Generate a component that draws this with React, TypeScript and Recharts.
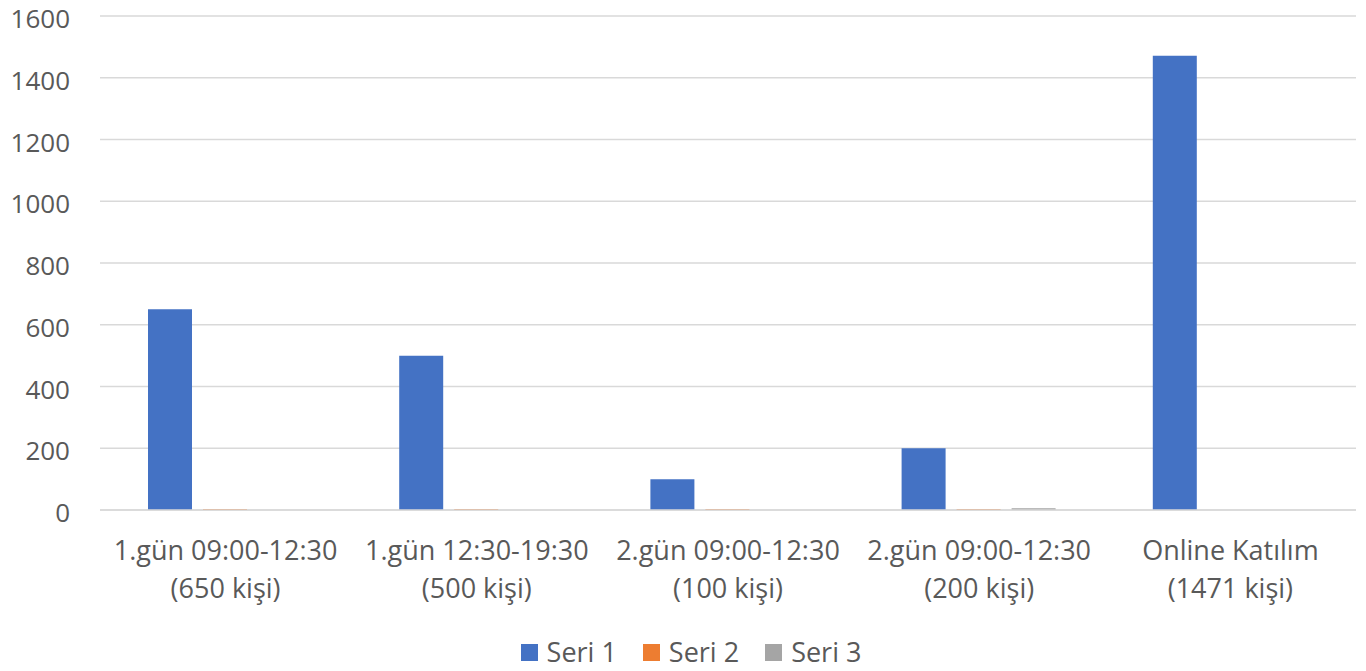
import { BarChart, Bar, XAxis, YAxis, CartesianGrid, Legend } from 'recharts'

const CATEGORIES = [
  '1.gün 09:00-12:30\n(650 kişi)',
  '1.gün 12:30-19:30\n(500 kişi)',
  '2.gün 09:00-12:30\n(100 kişi)',
  '2.gün 09:00-12:30\n(200 kişi)',
  'Online Katılım\n(1471 kişi)',
]
const SERI_1 = [650, 500, 100, 200, 1471]
const SERI_2 = [3, 3, 3, 3, 0]
const SERI_3 = [0, 0, 0, 6, 0]
const Y_TICKS = [0, 200, 400, 600, 800, 1000, 1200, 1400, 1600]

const SERIES = [
  { key: 'Seri 1', color: '#4472c4' },
  { key: 'Seri 2', color: '#ed7d31' },
  { key: 'Seri 3', color: '#a5a5a5' },
]

const FONT = '"Open Sans", "Noto Sans", sans-serif'
const TEXT = '#595959'
const FS = 27

const data = CATEGORIES.map((name, i) => ({
  name,
  'Seri 1': SERI_1[i],
  'Seri 2': SERI_2[i],
  'Seri 3': SERI_3[i],
}))

function CategoryTick(props: any) {
  const { x, y, payload } = props
  const lines = String(payload.value).split('\n')
  return (
    <text x={x} y={y} textAnchor="middle" fill={TEXT} fontSize={FS} fontFamily={FONT}>
      {lines.map((l, i) => (
        <tspan key={i} x={x} dy={i === 0 ? 42 : 38}>
          {l}
        </tspan>
      ))}
    </text>
  )
}

function ValueTick(props: any) {
  const { x, y, payload } = props
  return (
    <text x={x} y={y + 3} dy="0.355em" textAnchor="end" fill={TEXT} fontSize={26} fontFamily={FONT}>
      {payload.value}
    </text>
  )
}

function LegendContent() {
  return (
    <div style={{ display: 'flex', justifyContent: 'center', alignItems: 'center', paddingLeft: 52, paddingTop: 15 }}>
      {SERIES.map(({ key, color }) => (
        <div key={key} style={{ display: 'flex', alignItems: 'center', marginRight: 26 }}>
          <span style={{ display: 'inline-block', width: 17, height: 17, background: color, marginRight: 9 }} />
          <span style={{ color: TEXT, fontSize: FS, fontFamily: FONT, lineHeight: '36px' }}>{key}</span>
        </div>
      ))}
    </div>
  )
}

export default function App() {
  return (
    <div style={{ position: 'absolute', left: 0, top: 0, background: '#fff' }}>
      <BarChart
        width={1366}
        height={671}
        data={data}
        margin={{ top: 16, right: 10, bottom: 0, left: 0 }}
        barCategoryGap={48}
        barGap={11}
      >
        <CartesianGrid vertical={false} stroke="#d9d9d9" strokeWidth={1.5} />
        <XAxis
          dataKey="name"
          tick={<CategoryTick />}
          tickLine={false}
          axisLine={{ stroke: '#d9d9d9', strokeWidth: 1.5 }}
          height={109}
          interval={0}
        />
        <YAxis
          domain={[0, 1600]}
          ticks={Y_TICKS}
          width={100}
          axisLine={false}
          tickLine={false}
          tickMargin={24}
          tick={<ValueTick />}
        />
        {SERIES.map(({ key, color }) => (
          <Bar key={key} dataKey={key} fill={color} isAnimationActive={false} />
        ))}
        <Legend
          verticalAlign="bottom"
          height={52}
          wrapperStyle={{ bottom: 0 }}
          content={<LegendContent />}
        />
      </BarChart>
    </div>
  )
}
